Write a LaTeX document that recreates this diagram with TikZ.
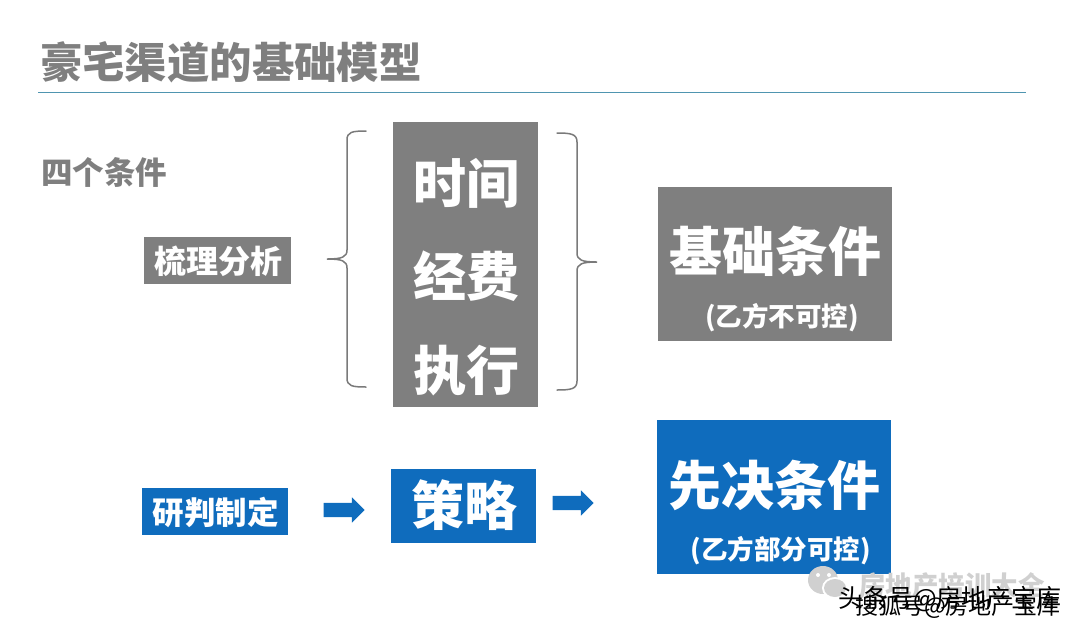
\documentclass[tikz,border=0pt]{standalone}
\usepackage{fontspec}
\usepackage{xcolor}
\usetikzlibrary{shapes.arrows}
\setmainfont{Liberation Sans}
\newfontfamily\cjk{Noto Sans CJK SC}[BoldFont=Noto Sans CJK SC Black]
\definecolor{boxgray}{HTML}{7F7F7F}
\definecolor{boxblue}{HTML}{0F6CBD}
\definecolor{rulecolor}{HTML}{4F95B0}
\definecolor{bracecolor}{HTML}{7A7A7A}
\definecolor{markgray}{HTML}{D0D0D0}
\begin{document}
\begin{tikzpicture}[x=1pt, y=-1pt,
    panel/.style={inner sep=0pt, outer sep=0pt},
    word/.style={inner sep=0pt, font=\cjk\bfseries\fontsize{#1}{#1}\selectfont, text=white},
    blockarrow/.style={shape=single arrow, draw=none, fill=boxblue, minimum width=25pt,
      single arrow head extend=5.5pt, single arrow head indent=0pt, minimum height=41pt, inner sep=7pt},
    bracket/.style={draw=bracecolor, line width=1.5pt, line cap=round}]
  \useasboundingbox (0,0) rectangle (1080,633);

  % Title
  \node[word=42.4, text=boxgray] (title) at (231,62) {豪宅渠道的基础模型};
  \coordinate (ruleL) at (38,92);
  \coordinate (ruleR) at (1026,92);
  \draw[rulecolor, line width=0.9pt] (ruleL) -- (ruleR);
  \node[word=31.5, text=boxgray] (four) at (104.5,172) {四个条件};

  % Gray boxes
  \node[panel, fill=boxgray, minimum width=147pt, minimum height=47pt] (sort) at (217.5,260.5) {};
  \node[word=32] (sortT) at (218,261) {梳理分析};
  \node[panel, fill=boxgray, minimum width=145pt, minimum height=285pt] (tall) at (465.5,264.5) {};
  \node[word=53] (time) at (466,183) {时间};
  \node[word=53] (cost) at (466,276) {经费};
  \node[word=53] (exec) at (466,371) {执行};
  \node[panel, fill=boxgray, minimum width=234pt, minimum height=154pt] (base) at (775,264) {};
  \node[word=53] (baseT) at (775,251) {基础条件};
  \node[word=26.5] (baseS) at (782,318) {(乙方不可控)};

  % Blue boxes
  \node[panel, fill=boxblue, minimum width=146pt, minimum height=47pt] (judge) at (215,511.5) {};
  \node[word=31.5] (judgeT) at (215.5,512) {研判制定};
  \node[panel, fill=boxblue, minimum width=145pt, minimum height=74pt] (plan) at (463.5,506) {};
  \node[word=53] (planT) at (464.5,505) {策略};
  \node[panel, fill=boxblue, minimum width=234pt, minimum height=154pt] (first) at (774,497) {};
  \node[word=53] (firstT) at (774,485) {先决条件};
  \node[word=26.5] (firstS) at (780.5,551) {(乙方部分可控)};

  % Arrows
  \node[blockarrow] (arrowA) at (340.5,510) {};
  \node[blockarrow] (arrowB) at (569.5,503) {};

  % Braces
  \draw[bracket] (366,131) .. controls (352,131) and (347,132) .. (347,140)
    -- (347,250) .. controls (347,257) and (342,259) .. (327,259)
    .. controls (342,259) and (347,261) .. (347,268)
    -- (347,378) .. controls (347,386) and (352,387) .. (366,387);
  \draw[bracket] (557,133) .. controls (571,133) and (577,134) .. (577,142)
    -- (577,253) .. controls (577,260) and (582,262) .. (597,262)
    .. controls (582,262) and (577,264) .. (577,271)
    -- (577,381) .. controls (577,389) and (571,390) .. (557,390);

  % Watermark
  \fill[markgray] (823,580) ellipse (15pt and 14pt);
  \fill[white] (835,588) ellipse (13pt and 11pt);
  \fill[markgray] (835,588) ellipse (11pt and 9pt);
  \fill[white] (818,575) circle (2pt) (829,575) circle (2pt);
  \node[word=26.5, text=markgray, anchor=west] (markA) at (859,585) {房地产培训大全};
  \node[font=\cjk\fontsize{25}{25}\selectfont, inner sep=0pt, anchor=west] (markB) at (838,599) {头条号@房地产宝库};
  \node[font=\cjk\fontsize{23}{23}\selectfont, inner sep=0pt, anchor=west] (markC) at (855,607) {搜狐号@房地产宝库};
\end{tikzpicture}
\end{document}
